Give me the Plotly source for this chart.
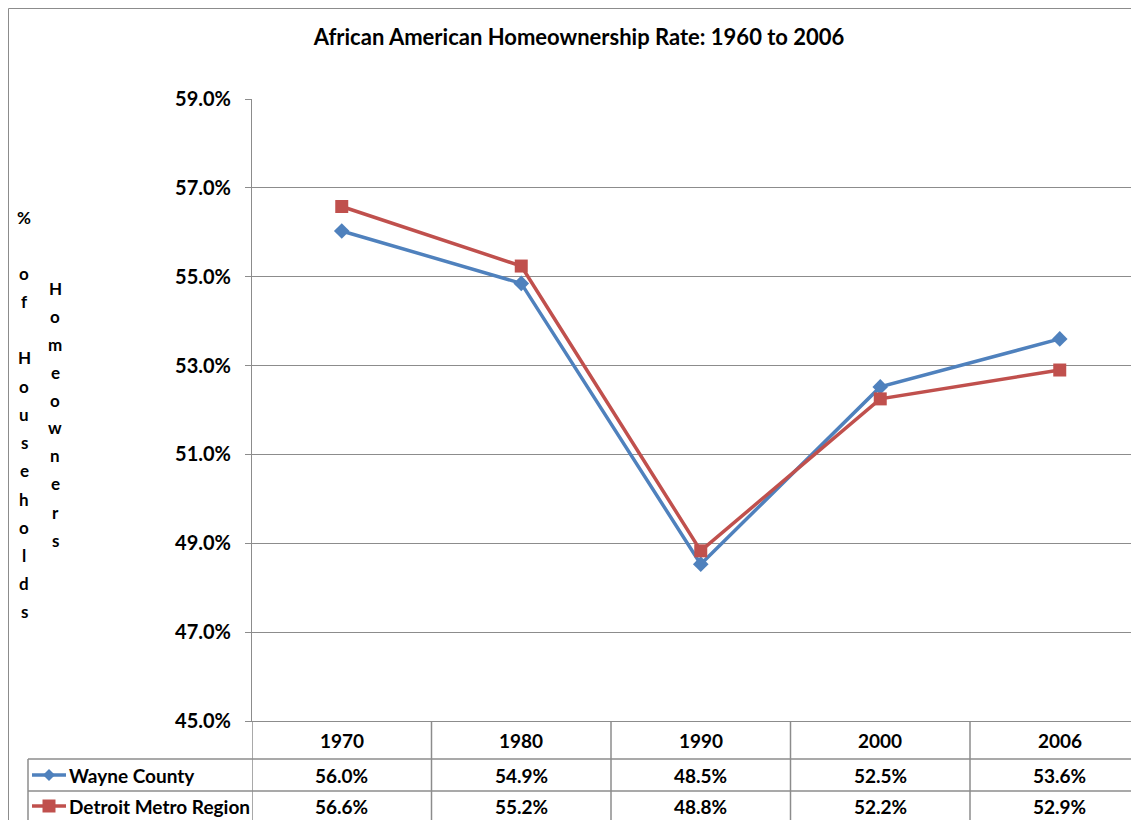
import plotly.graph_objects as go

# ---------------- data ----------------
years = ["1970", "1980", "1990", "2000", "2006"]
wayne = [56.03, 54.85, 48.53, 52.52, 53.60]
metro = [56.58, 55.24, 48.83, 52.25, 52.90]
series_names = ["Wayne County", "Detroit Metro Region"]
y_ticks = [45, 47, 49, 51, 53, 55, 57, 59]
title_text = "African American Homeownership Rate: 1960 to 2006"
ytitle_col1 = ["%", " ", "o", "f", " ", "H", "o", "u", "s", "e", "h", "o", "l", "d", "s"]
ytitle_col2 = "Homeowners"

BLUE = "#4F81BD"
RED = "#C0504D"
GRID = "#8C8C8C"
FONT = "Lato"

OFF = 8                                  # page body margin in the browser
W, H = 1139 - OFF, 820 - OFF
PLOT_L, PLOT_T, PLOT_B = 252, 99, 721    # plot area, in screenshot pixels
PL, PT = PLOT_L - OFF, PLOT_T - OFF
PB = H - (PLOT_B - OFF)
PW, PH = W - PL, H - PT - PB
CAT_W = 179.5                            # pixel width of one category


def px_x(px):
    return (px - OFF - PL) / PW


def px_y(py):
    return (H - PB - (py - OFF)) / PH


fig = go.Figure()
fig.add_trace(go.Scatter(
    x=list(range(len(years))), y=wayne, mode="lines+markers", name=series_names[0],
    line=dict(color=BLUE, width=3.5),
    marker=dict(symbol="diamond", size=12, color=BLUE),
))
fig.add_trace(go.Scatter(
    x=list(range(len(years))), y=metro, mode="lines+markers", name=series_names[1],
    line=dict(color=RED, width=3.5),
    marker=dict(symbol="square", size=13, color=RED),
))

x_max = -0.5 + PW / CAT_W
TXT = dict(family=FONT, size=19, color="black", weight="bold")

fig.update_layout(
    width=W, height=H,
    margin=dict(l=PL, r=0, t=PT, b=PB, pad=0),
    paper_bgcolor="white", plot_bgcolor="white",
    showlegend=False,
    font=TXT,
    title=dict(text=title_text, xref="container", yref="container",
               x=(579 - OFF) / W, y=1 - (37 - OFF) / H, xanchor="center", yanchor="middle",
               font=dict(family=FONT, size=22, color="black", weight="bold")),
    xaxis=dict(range=[-0.5, x_max], showticklabels=False, showgrid=False,
               zeroline=False, showline=True, linecolor=GRID, linewidth=1,
               ticks="", fixedrange=True),
    yaxis=dict(range=[45, 59], tickvals=y_ticks,
               ticktext=[f"{v:.1f}%" for v in y_ticks],
               showgrid=True, gridcolor=GRID, gridwidth=1,
               zeroline=False, showline=True, linecolor=GRID, linewidth=1,
               ticks="outside", ticklen=6, tickcolor=GRID,
               ticklabelstandoff=10,
               tickfont=dict(family=FONT, size=20, color="black", weight="bold")),
)

shapes = []
ann = []

# outer chart border
shapes.append(dict(type="rect", xref="paper", yref="paper",
                   x0=px_x(8.5), x1=px_x(1139 + 20), y0=px_y(820 + 20), y1=px_y(8.5),
                   line=dict(color=GRID, width=1), fillcolor="rgba(0,0,0,0)",
                   layer="below"))

# ---------------- data table ----------------
y_header_bot = 759
y_row1_bot = 791
y_bottom = 825
x_table_left = 28

for yy in (y_header_bot, y_row1_bot):
    shapes.append(dict(type="line", xref="paper", yref="paper",
                       x0=px_x(x_table_left), x1=px_x(1145), y0=px_y(yy), y1=px_y(yy),
                       line=dict(color=GRID, width=1.5)))
shapes.append(dict(type="line", xref="paper", yref="paper",
                   x0=px_x(x_table_left), x1=px_x(x_table_left),
                   y0=px_y(y_header_bot), y1=px_y(y_bottom),
                   line=dict(color=GRID, width=1.5)))
for i in range(len(years)):
    xb = i - 0.5
    shapes.append(dict(type="line", xref="x", yref="paper",
                       x0=xb, x1=xb, y0=0, y1=px_y(y_bottom),
                       line=dict(color=GRID, width=1.5)))

for i, yr in enumerate(years):
    ann.append(dict(x=i, y=px_y((PLOT_B + y_header_bot) / 2), xref="x", yref="paper",
                    text=yr, showarrow=False, xanchor="center", yanchor="middle",
                    font=TXT))

row_centers = [(y_header_bot + y_row1_bot) / 2, 806]
for r, (vals, name, col, sym) in enumerate([(wayne, series_names[0], BLUE, "diamond"),
                                             (metro, series_names[1], RED, "square")]):
    yc = row_centers[r]
    for i, v in enumerate(vals):
        ann.append(dict(x=i, y=px_y(yc), xref="x", yref="paper",
                        text=f"{v:.1f}%", showarrow=False, xanchor="center",
                        yanchor="middle", font=TXT))
    ann.append(dict(x=px_x(67), y=px_y(yc), xref="paper", yref="paper",
                    text=name, showarrow=False, xanchor="left", yanchor="middle",
                    font=TXT))
    shapes.append(dict(type="line", xref="paper", yref="paper",
                       x0=px_x(32), x1=px_x(66), y0=px_y(yc), y1=px_y(yc),
                       line=dict(color=col, width=3.5)))
    cx = 49
    if sym == "diamond":
        s = 6
        path = (f"M {px_x(cx - s)} {px_y(yc)} L {px_x(cx)} {px_y(yc - s)} "
                f"L {px_x(cx + s)} {px_y(yc)} L {px_x(cx)} {px_y(yc + s)} Z")
    else:
        s = 6.5
        path = (f"M {px_x(cx - s)} {px_y(yc - s)} L {px_x(cx + s)} {px_y(yc - s)} "
                f"L {px_x(cx + s)} {px_y(yc + s)} L {px_x(cx - s)} {px_y(yc + s)} Z")
    shapes.append(dict(type="path", xref="paper", yref="paper", path=path,
                       fillcolor=col, line=dict(color=col, width=0)))


# ---------------- stacked y-axis title ----------------
def stacked(chars, x_px, y0_px, step):
    for k, ch in enumerate(chars):
        if ch == " ":
            continue
        ann.append(dict(x=px_x(x_px), y=px_y(y0_px + k * step), xref="paper", yref="paper",
                        text=ch, showarrow=False, xanchor="center", yanchor="middle",
                        font=dict(family=FONT, size=17, color="black", weight="bold")))


stacked(ytitle_col1, 24, 217, 28.2)
stacked(list(ytitle_col2), 55, 288, 28.0)

fig.update_layout(shapes=shapes, annotations=ann)
fig.write_html("out.html")
